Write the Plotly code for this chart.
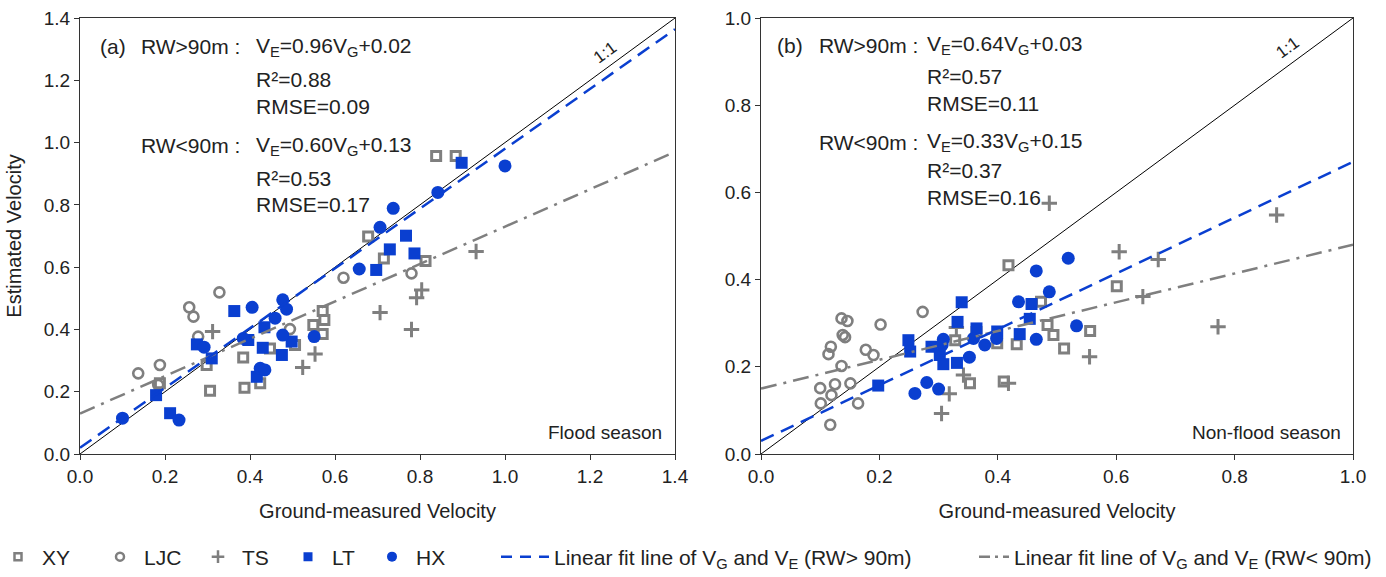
import plotly.graph_objects as go

# ---------------- data: flood season (a) ----------------
xy_a_x = [0.188, 0.298, 0.306, 0.384, 0.387, 0.424, 0.447, 0.506, 0.549, 0.571, 0.575, 0.571, 0.678, 0.715, 0.813, 0.838, 0.884]
xy_a_y = [0.227, 0.286, 0.203, 0.310, 0.213, 0.227, 0.339, 0.350, 0.414, 0.459, 0.430, 0.385, 0.698, 0.628, 0.620, 0.957, 0.957]

ljc_a_x = [0.137, 0.188, 0.184, 0.257, 0.267, 0.328, 0.278, 0.494, 0.620, 0.780]
ljc_a_y = [0.259, 0.286, 0.222, 0.471, 0.441, 0.519, 0.377, 0.401, 0.566, 0.580]

ts_a_x = [0.312, 0.524, 0.553, 0.706, 0.780, 0.792, 0.804, 0.932]
ts_a_y = [0.393, 0.278, 0.321, 0.454, 0.400, 0.502, 0.527, 0.650]

lt_a_x = [0.179, 0.212, 0.275, 0.310, 0.363, 0.396, 0.434, 0.430, 0.416, 0.475, 0.498, 0.697, 0.729, 0.767, 0.787, 0.898]
lt_a_y = [0.189, 0.131, 0.352, 0.307, 0.459, 0.366, 0.407, 0.341, 0.248, 0.318, 0.361, 0.591, 0.657, 0.701, 0.644, 0.935]

hx_a_x = [0.100, 0.233, 0.405, 0.292, 0.424, 0.435, 0.459, 0.477, 0.486, 0.477, 0.384, 0.551, 0.657, 0.706, 0.737, 0.842, 1.000]
hx_a_y = [0.115, 0.109, 0.471, 0.343, 0.275, 0.270, 0.436, 0.495, 0.465, 0.382, 0.371, 0.377, 0.594, 0.728, 0.789, 0.840, 0.925]

# ---------------- data: non-flood season (b) ----------------
xy_b_x = [0.418, 0.473, 0.484, 0.494, 0.432, 0.399, 0.364, 0.328, 0.353, 0.410, 0.601, 0.556, 0.512]
xy_b_y = [0.433, 0.349, 0.296, 0.273, 0.252, 0.254, 0.280, 0.261, 0.162, 0.166, 0.385, 0.282, 0.242]

ljc_b_x = [0.136, 0.146, 0.138, 0.142, 0.118, 0.114, 0.202, 0.273, 0.177, 0.190, 0.136, 0.100, 0.125, 0.151, 0.119, 0.101, 0.164, 0.117]
ljc_b_y = [0.311, 0.305, 0.273, 0.268, 0.246, 0.229, 0.297, 0.326, 0.239, 0.227, 0.202, 0.151, 0.160, 0.162, 0.135, 0.116, 0.116, 0.067]

ts_b_x = [0.342, 0.318, 0.305, 0.418, 0.330, 0.487, 0.871, 0.605, 0.671, 0.645, 0.772, 0.555]
ts_b_y = [0.181, 0.138, 0.093, 0.162, 0.290, 0.575, 0.548, 0.464, 0.446, 0.361, 0.292, 0.223]

lt_b_x = [0.198, 0.249, 0.252, 0.288, 0.302, 0.308, 0.332, 0.339, 0.331, 0.364, 0.399, 0.437, 0.454, 0.457]
lt_b_y = [0.157, 0.261, 0.235, 0.246, 0.227, 0.206, 0.303, 0.348, 0.209, 0.288, 0.281, 0.275, 0.310, 0.344]

hx_b_x = [0.260, 0.280, 0.300, 0.308, 0.306, 0.352, 0.359, 0.378, 0.398, 0.435, 0.465, 0.487, 0.465, 0.519, 0.533]
hx_b_y = [0.139, 0.164, 0.149, 0.263, 0.250, 0.222, 0.265, 0.250, 0.265, 0.349, 0.420, 0.372, 0.263, 0.449, 0.294]

# fitted lines: slope, intercept
fit_a_wide = (0.96, 0.02)
fit_a_narrow = (0.60, 0.13)
fit_b_wide = (0.64, 0.03)
fit_b_narrow = (0.33, 0.15)

range_a = [0.0, 1.4]
range_b = [0.0, 1.0]
ticks_a = [0.0, 0.2, 0.4, 0.6, 0.8, 1.0, 1.2, 1.4]
ticks_b = [0.0, 0.2, 0.4, 0.6, 0.8, 1.0]

GRAY = "#7f7f7f"
BLUE = "#0a3fd0"
INK = "#222"
FONT = "Arial, Liberation Sans, sans-serif"
W, H = 1386, 577


def fx(px):
    return px / W


def fy(py):
    return 1 - py / H


fig = go.Figure()

styles = {
    "XY": dict(symbol="square-open", size=9, color=GRAY, line=dict(width=3, color=GRAY)),
    "LJC": dict(symbol="circle-open", size=10, color=GRAY, line=dict(width=2.6, color=GRAY)),
    "TS": dict(symbol="cross-thin-open", size=11, color=GRAY, line=dict(width=3, color=GRAY)),
    "LT": dict(symbol="square", size=12, color=BLUE, line=dict(width=0)),
    "HX": dict(symbol="circle", size=13, color=BLUE, line=dict(width=0)),
}

panels = [
    ("x", "y", {"XY": (xy_a_x, xy_a_y), "LJC": (ljc_a_x, ljc_a_y), "TS": (ts_a_x, ts_a_y),
                "LT": (lt_a_x, lt_a_y), "HX": (hx_a_x, hx_a_y)}, range_a, fit_a_wide, fit_a_narrow),
    ("x2", "y2", {"XY": (xy_b_x, xy_b_y), "LJC": (ljc_b_x, ljc_b_y), "TS": (ts_b_x, ts_b_y),
                  "LT": (lt_b_x, lt_b_y), "HX": (hx_b_x, hx_b_y)}, range_b, fit_b_wide, fit_b_narrow),
]

for xa, ya, groups, rng, fw, fn in panels:
    # 1:1 reference line
    fig.add_trace(go.Scatter(x=rng, y=rng, mode="lines", line=dict(color="black", width=1),
                             xaxis=xa, yaxis=ya, showlegend=False, hoverinfo="skip"))
    for name in ["XY", "LJC", "TS", "LT", "HX"]:
        gx, gy = groups[name]
        fig.add_trace(go.Scatter(x=gx, y=gy, mode="markers", name=name, marker=styles[name],
                                 xaxis=xa, yaxis=ya, showlegend=False))
    fig.add_trace(go.Scatter(x=rng, y=[fn[0] * v + fn[1] for v in rng], mode="lines",
                             line=dict(color=GRAY, width=2.5, dash="16px,7px,3px,7px"),
                             xaxis=xa, yaxis=ya, showlegend=False, hoverinfo="skip"))
    fig.add_trace(go.Scatter(x=rng, y=[fw[0] * v + fw[1] for v in rng], mode="lines",
                             line=dict(color=BLUE, width=2.5, dash="14px,8px"),
                             xaxis=xa, yaxis=ya, showlegend=False, hoverinfo="skip"))

# legend entries: one legend box per entry so each sits at its own spot along the bottom row
# (label, marker, line, left edge of the legend box in px, symbol area width)
legend_items = [
    ("XY", dict(symbol="square-open", size=7, color=GRAY, line=dict(width=2.5, color=GRAY)), None, -6, 38),
    ("LJC", dict(symbol="circle-open", size=8, color=GRAY, line=dict(width=2.5, color=GRAY)), None, 96, 38),
    ("TS", dict(symbol="cross-thin-open", size=9, color=GRAY, line=dict(width=2.5, color=GRAY)), None, 194, 38),
    ("LT", dict(symbol="square", size=9, color=BLUE), None, 284, 38),
    ("HX", dict(symbol="circle", size=10, color=BLUE), None, 368, 38),
    ("Linear fit line of V<sub>G</sub> and V<sub>E</sub> (RW> 90m)", None,
     dict(color=BLUE, width=2.5, dash="11px,8px"), 496, 48),
    ("Linear fit line of V<sub>G</sub> and V<sub>E</sub> (RW< 90m)", None,
     dict(color=GRAY, width=2.5, dash="11px,5px,3px,5px"), 974, 30),
]
legend_layouts = {}
for i, (label, mk, ln, left_px, iw) in enumerate(legend_items):
    key = "legend" if i == 0 else f"legend{i + 1}"
    if mk is not None:
        tr = go.Scatter(x=[None], y=[None], mode="markers", marker=mk, name=label)
    else:
        tr = go.Scatter(x=[None], y=[None], mode="lines", line=ln, name=label)
    tr.update(legend=key, showlegend=True, xaxis="x", yaxis="y")
    fig.add_trace(tr)
    legend_layouts[key] = dict(x=fx(left_px), y=fy(557), xanchor="left", yanchor="middle",
                               orientation="h", bgcolor="rgba(0,0,0,0)", borderwidth=0,
                               font=dict(family=FONT, size=21, color=INK),
                               itemsizing="trace", itemwidth=iw)

axis_common = dict(showline=True, linecolor="#333", linewidth=1, mirror=True, ticks="outside",
                   ticklen=5, tickwidth=1, tickcolor="#333", showgrid=False, zeroline=False,
                   automargin=False,
                   tickfont=dict(family=FONT, size=19, color=INK), tickformat=".1f")
title_font = dict(family=FONT, size=20, color=INK)

y0, y1 = fy(454), fy(18)
fig.update_layout(
    width=W, height=H, margin=dict(l=0, r=0, t=0, b=0, autoexpand=False),
    paper_bgcolor="white", plot_bgcolor="white",
    xaxis=dict(domain=[fx(80), fx(675)], range=range_a, tickvals=ticks_a, anchor="y",
               title=dict(text="Ground-measured Velocity", font=title_font, standoff=18), **axis_common),
    yaxis=dict(domain=[y0, y1], range=range_a, tickvals=ticks_a, anchor="x",
               title=dict(text="Estimated Velocity", font=title_font, standoff=16), **axis_common),
    xaxis2=dict(domain=[fx(761), fx(1353)], range=range_b, tickvals=ticks_b, anchor="y2",
                title=dict(text="Ground-measured Velocity", font=title_font, standoff=18), **axis_common),
    yaxis2=dict(domain=[y0, y1], range=range_b, tickvals=ticks_b, anchor="x2", **axis_common),
    **legend_layouts,
)


def text(px, py, s, size=21, anchor="left", angle=0):
    fig.add_annotation(x=fx(px), y=fy(py), xref="paper", yref="paper", text=s, showarrow=False,
                       xanchor=anchor, yanchor="middle", textangle=angle,
                       font=dict(family=FONT, size=size, color=INK))


# panel (a) statistics
text(98, 47, "(a)")
text(139, 47, "RW>90m :")
text(254, 47, "V<sub>E</sub>=0.96V<sub>G</sub>+0.02")
text(254, 80, "R²=0.88")
text(254, 106, "RMSE=0.09")
text(139, 146, "RW<90m :")
text(254, 146, "V<sub>E</sub>=0.60V<sub>G</sub>+0.13")
text(254, 178, "R²=0.53")
text(254, 204, "RMSE=0.17")
text(605, 52, "1:1", size=17, anchor="center", angle=-36)
text(664, 432, "Flood season", size=19, anchor="right")

# panel (b) statistics
text(775, 45, "(b)")
text(817, 45, "RW>90m :")
text(925, 45, "V<sub>E</sub>=0.64V<sub>G</sub>+0.03")
text(925, 77, "R²=0.57")
text(925, 103, "RMSE=0.11")
text(817, 142, "RW<90m :")
text(925, 142, "V<sub>E</sub>=0.33V<sub>G</sub>+0.15")
text(925, 171, "R²=0.37")
text(925, 197, "RMSE=0.16")
text(1288, 48, "1:1", size=17, anchor="center", angle=-36)
text(1343, 432, "Non-flood season", size=19, anchor="right")

fig.write_html("out.html")
